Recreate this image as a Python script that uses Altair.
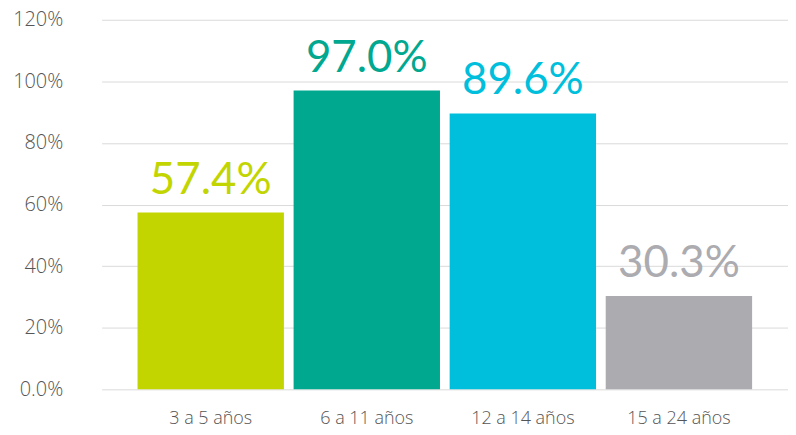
import altair as alt
import pandas as pd

categories = ["3 a 5 años", "6 a 11 años", "12 a 14 años", "15 a 24 años"]
values = [57.4, 97.0, 89.6, 30.3]
colors = ["#C2D500", "#00A88F", "#00BFDC", "#ABABB0"]

df = pd.DataFrame({"cat": categories, "val": values, "col": colors})
df["label"] = df["val"].map(lambda v: f"{v:.1f}%")

axis_font = "Open Sans"
big_font = "Lato"

x = alt.X("cat:N", sort=categories, title=None,
          scale=alt.Scale(paddingInner=0.062, paddingOuter=0.23),
          axis=alt.Axis(labelAngle=0, labelFontSize=18, labelColor="#555555",
                        labelFont=axis_font, labelFontWeight=300, labelPadding=20,
                        ticks=False, domain=False, grid=False))
y = alt.Y("val:Q", title=None,
          scale=alt.Scale(domain=[0, 120], nice=False),
          axis=alt.Axis(values=[0, 20, 40, 60, 80, 100, 120],
                        labelExpr="datum.value == 0 ? '0.0%' : datum.value + '%'",
                        labelFontSize=20, labelColor="#555555", labelFont=axis_font,
                        labelFontWeight=300, labelPadding=39, ticks=False, domain=False,
                        gridColor="#DADADA", gridWidth=1))

bars = alt.Chart(df).mark_bar().encode(
    x=x, y=y, color=alt.Color("col:N", scale=None)
)
text = alt.Chart(df).mark_text(
    dy=-19, baseline="alphabetic", fontSize=44, font=big_font, fontWeight=400
).encode(
    x=alt.X("cat:N", sort=categories), y="val:Q",
    text="label:N", color=alt.Color("col:N", scale=None)
)

chart = (bars + text).properties(
    width=689, height=371,
    autosize=alt.AutoSizeParams(type="none"),
    padding={"left": 94, "top": 11, "right": 0, "bottom": 40},
).configure_view(stroke=None)

chart.save("out.html", embed_options={"renderer": "svg", "actions": False})
